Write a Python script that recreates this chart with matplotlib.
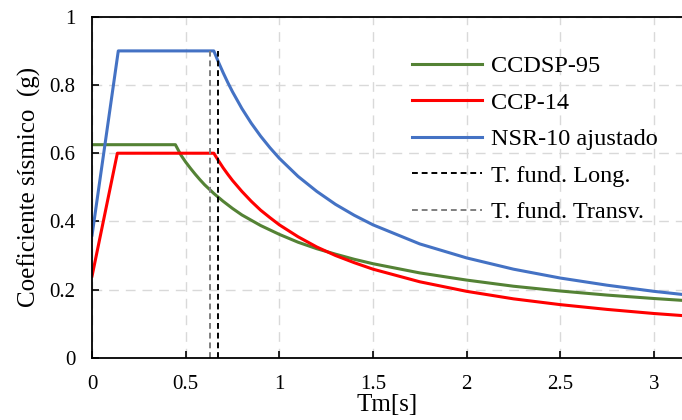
import matplotlib
matplotlib.use("Agg")
import matplotlib.pyplot as plt

plt.rcParams['font.family'] = ['Liberation Serif', 'DejaVu Serif']

# periods (s) and spectral values (g)
t_ccdsp = [0.0, 0.445, 0.475, 0.5, 0.525, 0.55, 0.575, 0.6, 0.625, 0.65, 0.7, 0.75, 0.8,
           0.9, 1.0, 1.1, 1.2, 1.3, 1.4, 1.5, 1.75, 2.0, 2.25, 2.5, 2.75, 3.0, 3.25]
sa_ccdsp = [0.625, 0.625, 0.594, 0.574, 0.556, 0.539, 0.523, 0.508, 0.495, 0.482, 0.459,
            0.438, 0.419, 0.388, 0.362, 0.339, 0.320, 0.304, 0.289, 0.276, 0.249, 0.228,
            0.210, 0.196, 0.184, 0.174, 0.165]

t_ccp = [0.0, 0.135, 0.65, 0.675, 0.7, 0.725, 0.75, 0.8, 0.85, 0.9, 0.95, 1.0, 1.1, 1.2,
         1.3, 1.4, 1.5, 1.75, 2.0, 2.25, 2.5, 2.75, 3.0, 3.25]
sa_ccp = [0.24, 0.60, 0.60, 0.578, 0.557, 0.538, 0.520, 0.488, 0.459, 0.433, 0.411, 0.390,
          0.355, 0.325, 0.300, 0.279, 0.260, 0.223, 0.195, 0.173, 0.156, 0.142, 0.130, 0.120]

t_nsr = [0.0, 0.14, 0.65, 0.675, 0.7, 0.725, 0.75, 0.8, 0.85, 0.9, 0.95, 1.0, 1.1, 1.2,
         1.3, 1.4, 1.5, 1.75, 2.0, 2.25, 2.5, 2.75, 3.0, 3.25]
sa_nsr = [0.36, 0.90, 0.90, 0.867, 0.836, 0.807, 0.780, 0.731, 0.688, 0.650, 0.616, 0.585,
          0.532, 0.488, 0.450, 0.418, 0.390, 0.334, 0.293, 0.260, 0.234, 0.213, 0.195, 0.180]

t_long = 0.67
t_transv = 0.63
sa_top = 0.90

fig = plt.figure(figsize=(6.82, 4.2), dpi=100)
ax = fig.add_axes([0.135, 0.148, 0.865, 0.812])

ax.plot(t_ccdsp, sa_ccdsp, color='#548235', lw=2.2, label='CCDSP-95')
ax.plot(t_ccp, sa_ccp, color='#FF0000', lw=2.2, label='CCP-14')
ax.plot(t_nsr, sa_nsr, color='#4472C4', lw=2.2, label='NSR-10 ajustado')
ax.plot([t_long, t_long], [0, sa_top], color='black', lw=1.4, ls=(0, (3, 2)),
        label='T. fund. Long.')
ax.plot([t_transv, t_transv], [0, sa_top], color='#7f7f7f', lw=1.4, ls=(0, (3, 2)),
        label='T. fund. Transv.')

ax.set_xlim(0, 3.15)
ax.set_ylim(0, 1)
ax.set_xticks([0, 0.5, 1, 1.5, 2, 2.5, 3])
ax.set_xticklabels(['0', '0.5', '1', '1.5', '2', '2.5', '3'])
ax.set_yticks([0, 0.2, 0.4, 0.6, 0.8, 1])
ax.set_yticklabels(['0', '0.2', '0.4', '0.6', '0.8', '1'])
ax.grid(True, color='#d9d9d9', ls=(0, (7, 5)), lw=1.0)
ax.set_axisbelow(True)
ax.tick_params(direction='in', length=5, width=1.2, labelsize=15, pad=12)
for s in ['left', 'bottom', 'top']:
    ax.spines[s].set_linewidth(1.3)
ax.spines['right'].set_visible(False)

ax.set_xlabel('Tm[s]', fontsize=18, labelpad=0)
ax.set_ylabel('Coeficiente sísmico  (g)', fontsize=18, labelpad=6)

ax.legend(loc='upper left', bbox_to_anchor=(0.542, 0.888), frameon=False,
          fontsize=17.5, handlelength=2.9, handletextpad=0.37, labelspacing=0.6,
          borderpad=0, borderaxespad=0)

fig.savefig('out.png', dpi=100)
